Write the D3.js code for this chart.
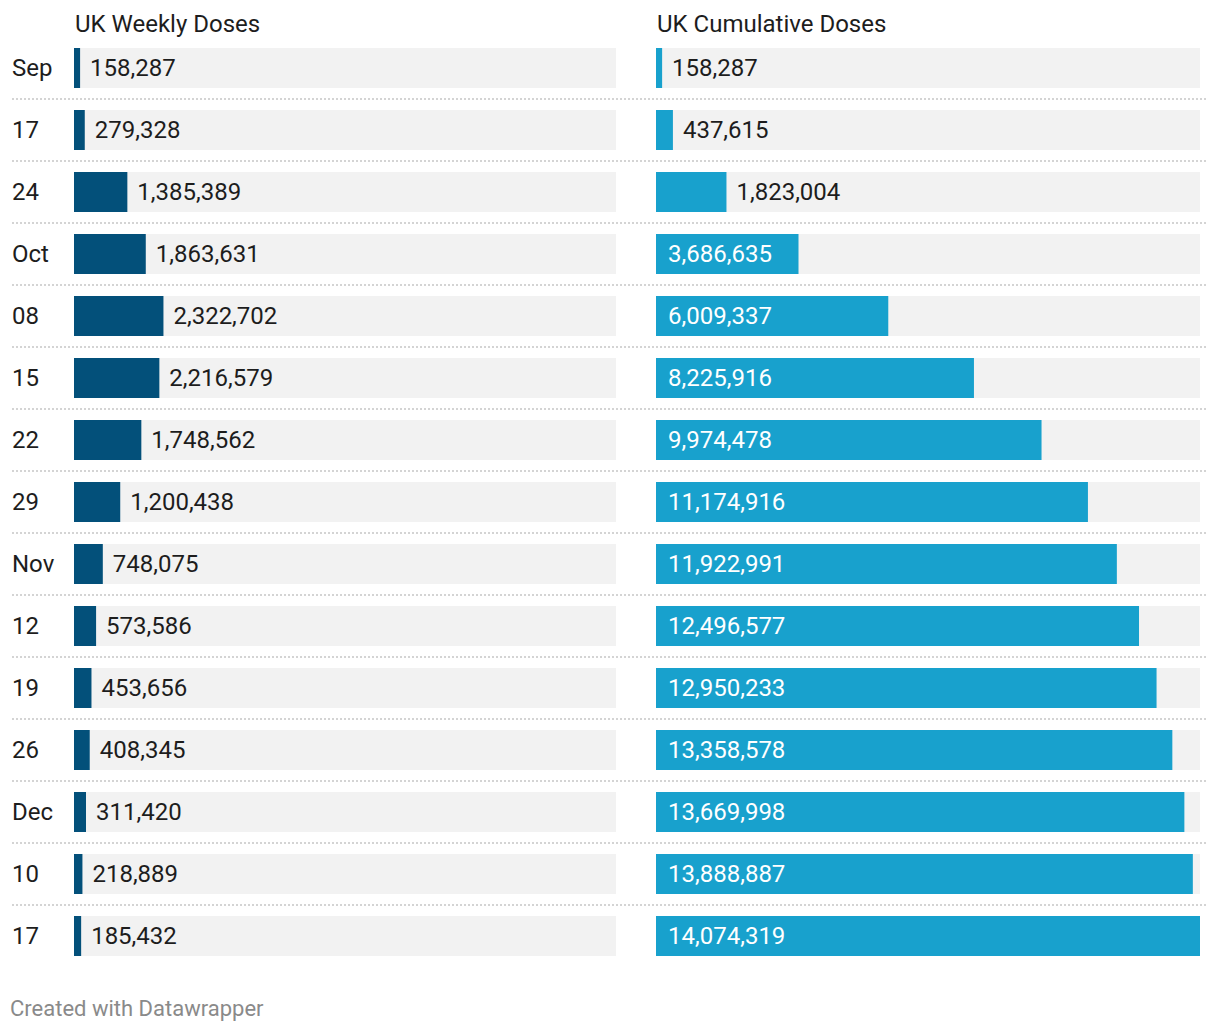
<!DOCTYPE html>
<html>
<head>
<meta charset="utf-8">
<script src="https://cdn.jsdelivr.net/npm/d3@7"></script>
<style>
  html, body { margin: 0; padding: 0; background: #fff; }
  svg { display: block; font-family: Roboto, "Noto Sans", sans-serif; }
</style>
</head>
<body>
<svg id="chart" width="1220" height="1032"></svg>
<script>
const categories = ["Sep", "17", "24", "Oct", "08", "15", "22", "29", "Nov", "12", "19", "26", "Dec", "10", "17"];
const weeklyDoses = [158287, 279328, 1385389, 1863631, 2322702, 2216579, 1748562, 1200438, 748075, 573586, 453656, 408345, 311420, 218889, 185432];
const cumulativeDoses = [158287, 437615, 1823004, 3686635, 6009337, 8225916, 9974478, 11174916, 11922991, 12496577, 12950233, 13358578, 13669998, 13888887, 14074319];
const panelTitles = ["UK Weekly Doses", "UK Cumulative Doses"];
const footer = "Created with Datawrapper";

const svg = d3.select("#chart");
const fmt = d3.format(",");
const fontSize = 24;

const rowTop = 48, rowPitch = 62, barH = 40;
const n = categories.length;
const y = d3.scaleBand()
  .domain(d3.range(n))
  .range([rowTop, rowTop + rowPitch * (n - 1) + barH])
  .paddingInner((rowPitch - barH) / rowPitch)
  .paddingOuter(0)
  .align(0);

const maxVal = d3.max(cumulativeDoses);
const panels = [
  { title: panelTitles[0], values: weeklyDoses, x0: 74, x1: 616, color: "#03507a" },
  { title: panelTitles[1], values: cumulativeDoses, x0: 656, x1: 1200, color: "#18a1cd" }
];

// separators
const sepG = svg.append("g");
categories.forEach((c, i) => {
  if (i === n - 1) return;
  const sy = y(i) + y.bandwidth() + (y.step() - y.bandwidth()) / 2;
  sepG.append("line")
    .attr("x1", 12).attr("x2", 1208)
    .attr("y1", sy).attr("y2", sy)
    .attr("stroke", "#d4d4d4")
    .attr("stroke-width", 2)
    .attr("stroke-dasharray", "2,2");
});

// category labels
svg.append("g").selectAll("text")
  .data(categories)
  .join("text")
  .attr("x", 12)
  .attr("y", (d, i) => y(i) + y.bandwidth() / 2)
  .attr("dy", "0.35em")
  .attr("font-size", fontSize)
  .attr("fill", "#1d1d1d")
  .text(d => d);

panels.forEach(p => {
  const x = d3.scaleLinear().domain([0, maxVal]).range([p.x0, p.x1]);
  const g = svg.append("g");
  g.append("text")
    .attr("x", p.x0 + 1).attr("y", 32)
    .attr("font-size", fontSize)
    .attr("fill", "#1d1d1d")
    .text(p.title);
  g.selectAll("rect.bg")
    .data(p.values)
    .join("rect")
    .attr("class", "bg")
    .attr("x", p.x0)
    .attr("y", (d, i) => y(i))
    .attr("width", p.x1 - p.x0)
    .attr("height", y.bandwidth())
    .attr("fill", "#f2f2f2");
  g.selectAll("rect.bar")
    .data(p.values)
    .join("rect")
    .attr("class", "bar")
    .attr("x", p.x0)
    .attr("y", (d, i) => y(i))
    .attr("width", d => x(d) - p.x0)
    .attr("height", y.bandwidth())
    .attr("fill", p.color);
  g.selectAll("text.val")
    .data(p.values)
    .join("text")
    .attr("class", "val")
    .attr("y", (d, i) => y(i) + y.bandwidth() / 2)
    .attr("dy", "0.35em")
    .attr("font-size", fontSize)
    .text(d => fmt(d))
    .each(function (d) {
      const t = d3.select(this);
      const w = this.getComputedTextLength();
      const bw = x(d) - p.x0;
      if (w + 24 < bw) {
        t.attr("x", p.x0 + 12).attr("fill", "#ffffff");
      } else {
        t.attr("x", x(d) + 10).attr("fill", "#1d1d1d");
      }
    });
});

svg.append("text")
  .attr("x", 10).attr("y", 1016)
  .attr("font-size", 22)
  .attr("fill", "#8a8a8a")
  .text(footer);
</script>
</body>
</html>
